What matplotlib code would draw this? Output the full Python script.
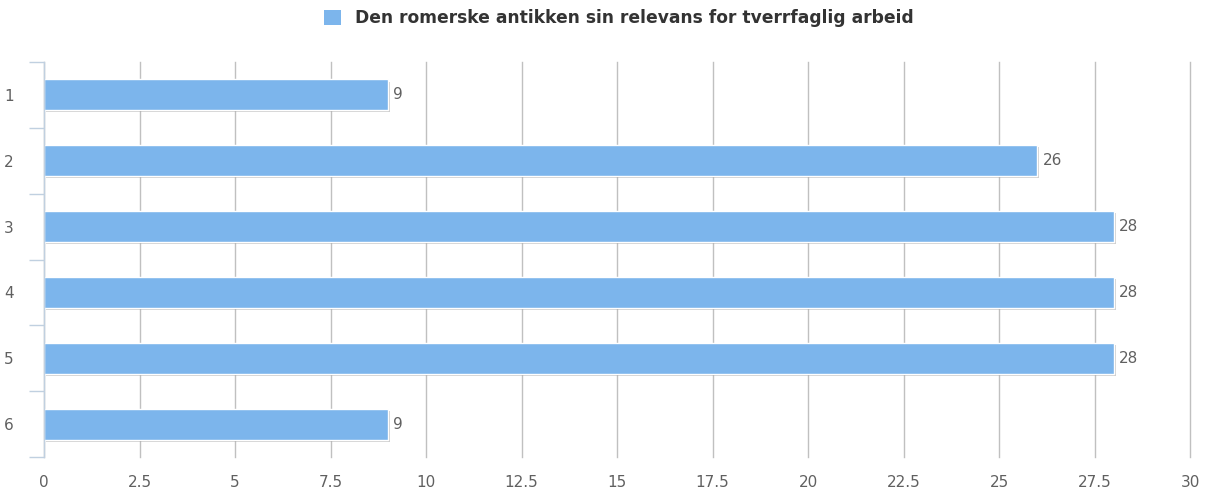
import numpy as np
import matplotlib
matplotlib.use("Agg")
import matplotlib.pyplot as plt
import matplotlib.patheffects as pe
from matplotlib.patches import Rectangle

# chart data
categories = ["1", "2", "3", "4", "5", "6"]
values = [9, 26, 28, 28, 28, 9]
series_name = "Den romerske antikken sin relevans for tverrfaglig arbeid"
x_ticks = [0, 2.5, 5, 7.5, 10, 12.5, 15, 17.5, 20, 22.5, 25, 27.5, 30]
x_tick_labels = ["0", "2.5", "5", "7.5", "10", "12.5", "15", "17.5", "20", "22.5", "25", "27.5", "30"]

bar_color = "#7cb5ec"
text_color = "#606060"

plt.rcParams["font.family"] = ["DejaVu Sans"]

fig = plt.figure(figsize=(12.1, 4.91), dpi=100)
ax = fig.add_axes([44 / 1210, 1 - 457 / 491, (1190 - 44) / 1210, (457 - 62) / 491])

y = np.arange(len(categories))
bars = ax.barh(y, values, height=0.47, color=bar_color, edgecolor="white", linewidth=1.0, zorder=3)
for b in bars:
    b.set_path_effects([pe.SimplePatchShadow(offset=(1.5, -1.5), shadow_rgbFace="#888888", alpha=0.4), pe.Normal()])

for yi, v in zip(y, values):
    ax.annotate(str(v), (v, yi), xytext=(4, 0), textcoords="offset points",
                va="center", ha="left", fontsize=11, color=text_color, zorder=4)

ax.set_xlim(0, 30)
ax.set_ylim(len(categories) - 0.5, -0.5)
ax.set_xticks(x_ticks)
ax.set_xticklabels(x_tick_labels, fontsize=11, color=text_color)
ax.set_yticks(y)
ax.set_yticklabels(categories, fontsize=11, color=text_color)
ax.set_yticks(np.arange(len(categories) + 1) - 0.5, minor=True)

ax.tick_params(axis="x", length=0, pad=13)
ax.tick_params(axis="y", which="major", length=0, pad=22)
ax.tick_params(axis="y", which="minor", length=11, width=1, color="#c0d0e0")

ax.grid(axis="x", color="#c0c0c0", linewidth=1, zorder=0)
for gl in ax.get_xgridlines():
    gl.set_clip_on(False)
ax.set_axisbelow(True)
for side in ["top", "right", "bottom"]:
    ax.spines[side].set_visible(False)
ax.spines["left"].set_color("#c0d0e0")
ax.spines["left"].set_linewidth(1)
ax.spines["left"].set_zorder(5)

# legend at the top
handle = Rectangle((0, 0), 1, 1, facecolor=bar_color, edgecolor="none")
leg = fig.legend([handle], [series_name], loc="center", bbox_to_anchor=(619 / 1210, 1 - 18 / 491),
                 frameon=False, handlelength=1.0, handleheight=1.0, handletextpad=0.8,
                 prop={"weight": "bold", "size": 12.3})
for t in leg.get_texts():
    t.set_color("#333333")

fig.savefig("out.png", dpi=100)
